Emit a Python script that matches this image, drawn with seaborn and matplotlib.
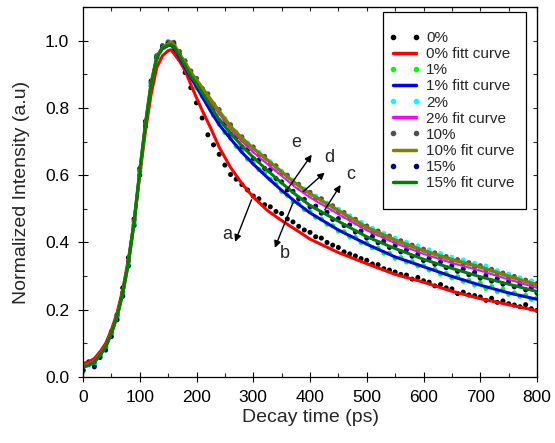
import numpy as np
import pandas as pd
import matplotlib
matplotlib.use("Agg")
import matplotlib.pyplot as plt
import seaborn as sns
from matplotlib.lines import Line2D
from matplotlib.patches import Rectangle
from matplotlib.ticker import MultipleLocator

# dot data, one point every 10 ps
t_data = list(range(0, 801, 10))

dots_0 = [0.020, 0.045, 0.040, 0.065, 0.090, 0.135, 0.185, 0.265, 0.355, 0.470,
          0.620, 0.760, 0.880, 0.950, 0.980, 0.990,
          0.970, 0.945, 0.905, 0.860, 0.815, 0.770, 0.720, 0.690, 0.662, 0.630,
          0.602, 0.588, 0.572, 0.556, 0.538, 0.530, 0.512, 0.506, 0.492, 0.486,
          0.470, 0.461, 0.448, 0.437, 0.430, 0.417, 0.413, 0.400, 0.392, 0.385,
          0.372, 0.366, 0.360, 0.352, 0.347, 0.336, 0.334, 0.322, 0.318, 0.312,
          0.305, 0.303, 0.291, 0.296, 0.286, 0.282, 0.271, 0.275, 0.265, 0.262,
          0.248, 0.252, 0.244, 0.242, 0.238, 0.228, 0.234, 0.222, 0.226, 0.218,
          0.214, 0.209, 0.215, 0.203, 0.198]

dots_1 = [0.015, 0.040, 0.035, 0.060, 0.085, 0.125, 0.175, 0.245, 0.335, 0.455,
          0.610, 0.750, 0.870, 0.955, 0.985, 0.995,
          0.982, 0.955, 0.922, 0.893, 0.860, 0.835, 0.810, 0.778, 0.752, 0.727,
          0.710, 0.686, 0.671, 0.648, 0.636, 0.617, 0.607, 0.588, 0.574, 0.552,
          0.540, 0.521, 0.516, 0.498, 0.492, 0.475, 0.470, 0.454, 0.450, 0.434,
          0.432, 0.417, 0.415, 0.400, 0.398, 0.384, 0.383, 0.369, 0.368, 0.353,
          0.355, 0.342, 0.343, 0.330, 0.331, 0.318, 0.320, 0.306, 0.308, 0.295,
          0.298, 0.285, 0.287, 0.274, 0.280, 0.263, 0.269, 0.254, 0.261, 0.246,
          0.250, 0.240, 0.243, 0.231, 0.236]

dots_2 = [0.025, 0.035, 0.040, 0.060, 0.085, 0.125, 0.178, 0.250, 0.340, 0.460,
          0.610, 0.750, 0.872, 0.955, 0.985, 0.998,
          0.992, 0.962, 0.932, 0.906, 0.878, 0.858, 0.830, 0.812, 0.784, 0.768,
          0.740, 0.728, 0.703, 0.696, 0.672, 0.668, 0.645, 0.640, 0.616, 0.612,
          0.590, 0.585, 0.561, 0.559, 0.538, 0.538, 0.518, 0.517, 0.498, 0.499,
          0.477, 0.479, 0.457, 0.460, 0.440, 0.442, 0.424, 0.427, 0.410, 0.413,
          0.396, 0.401, 0.383, 0.390, 0.371, 0.378, 0.360, 0.367, 0.350, 0.356,
          0.340, 0.348, 0.331, 0.338, 0.322, 0.330, 0.311, 0.316, 0.302, 0.306,
          0.290, 0.295, 0.280, 0.286, 0.270]

dots_10 = [0.030, 0.040, 0.045, 0.070, 0.092, 0.132, 0.182, 0.252, 0.345, 0.465,
           0.615, 0.755, 0.875, 0.955, 0.985, 0.995,
           0.995, 0.968, 0.940, 0.910, 0.888, 0.858, 0.842, 0.810, 0.795, 0.762,
           0.750, 0.722, 0.714, 0.690, 0.684, 0.660, 0.656, 0.633, 0.628, 0.605,
           0.600, 0.577, 0.573, 0.552, 0.549, 0.530, 0.530, 0.510, 0.509, 0.490,
           0.489, 0.470, 0.469, 0.450, 0.449, 0.432, 0.434, 0.417, 0.419, 0.402,
           0.405, 0.390, 0.392, 0.377, 0.380, 0.366, 0.369, 0.355, 0.358, 0.344,
           0.349, 0.335, 0.340, 0.326, 0.331, 0.317, 0.320, 0.306, 0.309, 0.295,
           0.299, 0.284, 0.288, 0.274, 0.278]

dots_15 = [0.020, 0.038, 0.030, 0.058, 0.080, 0.120, 0.170, 0.240, 0.330, 0.450,
           0.600, 0.745, 0.865, 0.950, 0.980, 0.990,
           0.990, 0.958, 0.928, 0.900, 0.870, 0.850, 0.816, 0.798, 0.762, 0.752,
           0.722, 0.712, 0.684, 0.676, 0.650, 0.645, 0.620, 0.616, 0.590, 0.580,
           0.556, 0.552, 0.530, 0.528, 0.506, 0.508, 0.487, 0.490, 0.468, 0.471,
           0.450, 0.452, 0.431, 0.434, 0.413, 0.418, 0.399, 0.404, 0.385, 0.390,
           0.372, 0.378, 0.359, 0.365, 0.346, 0.353, 0.335, 0.342, 0.325, 0.331,
           0.314, 0.321, 0.304, 0.311, 0.294, 0.302, 0.285, 0.293, 0.276, 0.284,
           0.268, 0.275, 0.259, 0.266, 0.250]

# fitted curves
t_fit = [0, 10, 20, 30, 40, 50, 60, 70, 80, 90, 100, 110, 120, 130, 140, 150, 155,
         160, 170, 180, 190, 200, 210, 225, 240, 260, 280, 300, 325, 350, 375, 400,
         450, 500, 550, 600, 650, 700, 750, 800]

fit_0 = [0.040, 0.045, 0.055, 0.075, 0.100, 0.140, 0.190, 0.260, 0.350, 0.460,
         0.600, 0.730, 0.840, 0.920, 0.955, 0.970, 0.973,
         0.962, 0.940, 0.910, 0.870, 0.830, 0.793, 0.740, 0.683, 0.623, 0.575,
         0.535, 0.495, 0.465, 0.438, 0.410, 0.370, 0.337, 0.305, 0.282, 0.255,
         0.233, 0.215, 0.197]

fit_1 = [0.030, 0.035, 0.045, 0.065, 0.090, 0.130, 0.180, 0.250, 0.340, 0.460,
         0.610, 0.750, 0.870, 0.950, 0.976, 0.985, 0.986,
         0.980, 0.950, 0.920, 0.890, 0.862, 0.833, 0.790, 0.750, 0.708, 0.668,
         0.633, 0.593, 0.555, 0.520, 0.488, 0.437, 0.395, 0.357, 0.328, 0.299,
         0.273, 0.250, 0.231]

fit_2 = [0.035, 0.040, 0.050, 0.070, 0.095, 0.135, 0.185, 0.255, 0.345, 0.465,
         0.615, 0.755, 0.875, 0.955, 0.980, 0.990, 0.992,
         0.985, 0.957, 0.930, 0.900, 0.877, 0.853, 0.817, 0.782, 0.737, 0.700,
         0.668, 0.633, 0.598, 0.563, 0.534, 0.484, 0.436, 0.398, 0.366, 0.339,
         0.316, 0.290, 0.265]

fit_10 = [0.030, 0.036, 0.046, 0.066, 0.090, 0.130, 0.180, 0.250, 0.340, 0.460,
          0.610, 0.750, 0.872, 0.952, 0.980, 0.990, 0.996,
          0.990, 0.960, 0.935, 0.905, 0.883, 0.860, 0.825, 0.790, 0.745, 0.710,
          0.680, 0.645, 0.610, 0.575, 0.545, 0.495, 0.445, 0.407, 0.376, 0.349,
          0.327, 0.300, 0.274]

fit_15 = [0.030, 0.035, 0.045, 0.065, 0.090, 0.130, 0.180, 0.250, 0.340, 0.460,
          0.610, 0.750, 0.870, 0.950, 0.978, 0.986, 0.988,
          0.983, 0.955, 0.925, 0.895, 0.872, 0.845, 0.805, 0.765, 0.725, 0.687,
          0.653, 0.614, 0.577, 0.542, 0.510, 0.463, 0.417, 0.382, 0.350, 0.323,
          0.298, 0.276, 0.254]

# labelled arrows
arrow_labels = ["a", "b", "c", "d", "e"]
arrow_tail = [(297, 0.527), (370, 0.518), (426, 0.497), (388, 0.551), (356, 0.548)]
arrow_head = [(268, 0.402), (338, 0.384), (454, 0.571), (426, 0.608), (403, 0.661)]
arrow_text = [(254, 0.423), (356, 0.366), (471, 0.601), (434, 0.654), (375, 0.696)]

x_ticks = [0, 100, 200, 300, 400, 500, 600, 700, 800]
y_ticks = [0.0, 0.2, 0.4, 0.6, 0.8, 1.0]

sns.set_style("ticks")
plt.rcParams["font.family"] = ["Liberation Sans", "DejaVu Sans"]

series = [
    ("0%", dots_0, "black", "0% fitt curve", fit_0, "#ff0000", 2.2),
    ("1%", dots_1, "#00ff00", "1% fitt curve", fit_1, "#0000ff", 2.2),
    ("2%", dots_2, "#00ffff", "2% fit curve", fit_2, "#ff00ff", 1.4),
    ("10%", dots_10, "#505050", "10% fit curve", fit_10, "#808000", 2.5),
    ("15%", dots_15, "#000080", "15% fit curve", fit_15, "#008000", 2.2),
]

fig = plt.figure(figsize=(5.55, 4.43), dpi=100)
ax = fig.add_axes([83 / 555, 66 / 443, 454 / 555, 370 / 443])

handles = []
labels = []
for name, dots, dcol, fname, fit, fcol, lw in series:
    dd = pd.DataFrame({"t": t_data, "v": dots})
    ff = pd.DataFrame({"t": t_fit, "v": fit})
    sns.scatterplot(data=dd, x="t", y="v", color=dcol, s=13, edgecolor="none",
                    ax=ax, legend=False)
    sns.lineplot(data=ff, x="t", y="v", color=fcol, linewidth=lw, ax=ax,
                 legend=False)
    handles.append(Line2D([], [], marker="o", linestyle="none", color=dcol,
                          markersize=3))
    labels.append(name)
    handles.append(Line2D([], [], color=fcol, linewidth=2.5))
    labels.append(fname)

for lab, tail, head, txt in zip(arrow_labels, arrow_tail, arrow_head, arrow_text):
    ax.annotate("", xy=head, xytext=tail,
                arrowprops=dict(arrowstyle="-|>", color="black", lw=1,
                                mutation_scale=10, shrinkA=0, shrinkB=0))
    ax.text(txt[0], txt[1], lab, fontsize=13, ha="center", va="center")

ax.set_xlim(0, 800)
ax.set_ylim(0, 1.1)
ax.set_xticks(x_ticks)
ax.set_yticks(y_ticks)
ax.set_yticklabels([f"{v:.1f}" for v in y_ticks])
ax.xaxis.set_minor_locator(MultipleLocator(50))
ax.yaxis.set_minor_locator(MultipleLocator(0.1))
ax.tick_params(which="major", direction="inout", length=7, width=0.8,
               labelsize=12.5, colors="black")
ax.tick_params(axis="x", which="major", pad=6)
ax.tick_params(axis="y", which="major", pad=6.5)
ax.tick_params(which="minor", direction="in", length=3, width=0.8)
for sp in ax.spines.values():
    sp.set_linewidth(0.9)
    sp.set_color("black")

secx = ax.secondary_xaxis("top")
secx.set_xticks(x_ticks)
secx.xaxis.set_minor_locator(MultipleLocator(50))
secx.tick_params(which="both", direction="in", length=3, width=0.8, labeltop=False)
secy = ax.secondary_yaxis("right")
secy.set_yticks(y_ticks)
secy.yaxis.set_minor_locator(MultipleLocator(0.1))
secy.tick_params(which="both", direction="in", length=3, width=0.8, labelright=False)

ax.set_xlabel("Decay time (ps)", fontsize=14, labelpad=3)
ax.set_ylabel("Normalized Intensity (a.u)", fontsize=14, labelpad=11)

# legend box
box = Rectangle(((383 - 83) / 454, (377 - 209) / 370), 143 / 454, 197 / 370,
                transform=ax.transAxes, facecolor="white", edgecolor="black",
                linewidth=0.9, zorder=4.5)
ax.add_patch(box)
leg = ax.legend(handles, labels, loc="upper left",
                bbox_to_anchor=((388 - 83) / 454, (377 - 31) / 370),
                frameon=False, fontsize=11, labelspacing=0.14,
                handlelength=2.1, handletextpad=0.4, numpoints=2,
                borderpad=0, borderaxespad=0)
leg.set_zorder(5)

fig.savefig("out.png", dpi=100)
